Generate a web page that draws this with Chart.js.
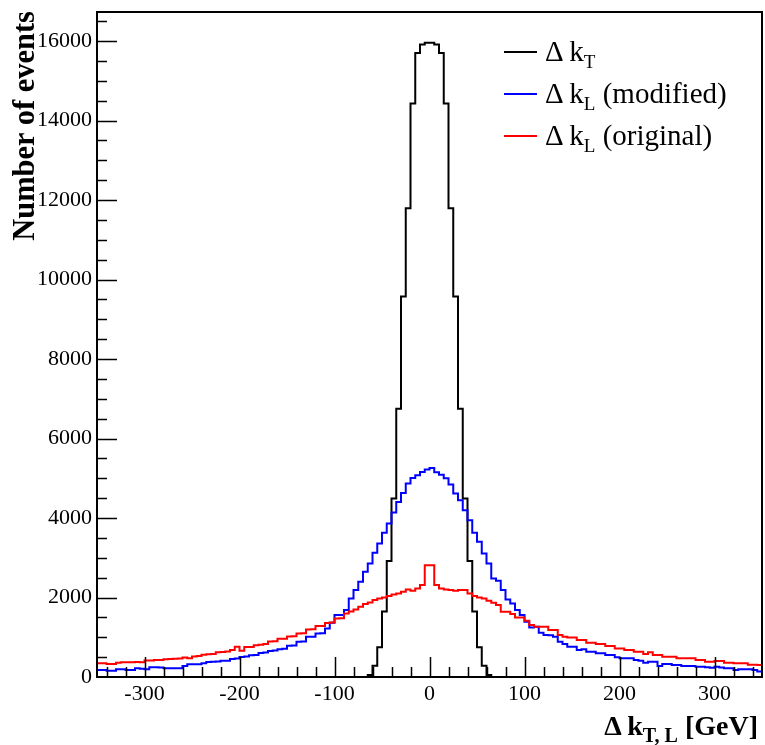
<!DOCTYPE html>
<html>
<head>
<meta charset="utf-8">
<script src="https://cdn.jsdelivr.net/npm/chart.js@4.4.0/dist/chart.umd.min.js"></script>
<style>
    html, body { margin: 0; padding: 0; background: #fff; }
    #wrap { position: relative; width: 765px; height: 745px; }
    #plot { position: absolute; left: 0; top: 0; }
    #labels { position: absolute; left: 0; top: 0; pointer-events: none; }
    #labels text { font-family: 'Liberation Serif', 'Times New Roman', serif; fill: #000; white-space: pre; }
</style>
</head>
<body>
<div id="wrap">
    <canvas id="plot" width="765" height="745"></canvas>
    <svg id="labels" width="765" height="745">
        <text transform="translate(34,11) rotate(-90)" text-anchor="end" font-size="30.5" font-weight="bold">Number of events</text>
        <text x="758" y="735" text-anchor="end" font-size="28" font-weight="bold">Δ k<tspan font-size="20" dy="7">T, L</tspan><tspan font-size="28" dy="-7"> [GeV]</tspan></text>

        <line x1="504" y1="52" x2="537" y2="52" stroke="#000" stroke-width="2"/>
        <text x="545" y="61" font-size="29">Δ k<tspan font-size="19" dy="7">T</tspan></text>
        <line x1="504" y1="94" x2="537" y2="94" stroke="#0000ff" stroke-width="2"/>
        <text x="545" y="103" font-size="29">Δ k<tspan font-size="19" dy="7">L</tspan><tspan font-size="29" dy="-7"> (modified)</tspan></text>
        <line x1="504" y1="136" x2="537" y2="136" stroke="#ff0000" stroke-width="2"/>
        <text x="545" y="145" font-size="29">Δ k<tspan font-size="19" dy="7">L</tspan><tspan font-size="29" dy="-7"> (original)</tspan></text>
    </svg>
</div>
<script>
// histogram binning: 140 bins of 5 GeV from -350 to 350
const binStart = -350;
const binWidth = 5;

// Δk_T
const kT = [
    0, 0, 0, 0, 0, 0, 0, 0, 0, 0,
    0, 0, 0, 0, 0, 0, 0, 0, 0, 0,
    0, 0, 0, 0, 0, 0, 0, 0, 0, 0,
    0, 0, 0, 0, 0, 0, 0, 0, 0, 0,
    0, 0, 0, 0, 0, 0, 0, 0, 0, 0,
    0, 0, 0, 0, 0, 0, 0, 50, 280, 750,
    1650, 2920, 4490, 6750, 9570, 11790, 14430, 15700, 15910, 15955,
    15955, 15910, 15700, 14430, 11790, 9570, 6750, 4490, 2920, 1650,
    750, 280, 50, 0, 0, 0, 0, 0, 0, 0,
    0, 0, 0, 0, 0, 0, 0, 0, 0, 0,
    0, 0, 0, 0, 0, 0, 0, 0, 0, 0,
    0, 0, 0, 0, 0, 0, 0, 0, 0, 0,
    0, 0, 0, 0, 0, 0, 0, 0, 0, 0,
    0, 0, 0, 0, 0, 0, 0, 0, 0, 0
];

// Δk_L (modified)
const kLmod = [
    176, 176, 159, 159, 193, 193, 176, 176, 218, 210,
    193, 243, 243, 240, 218, 220, 222, 218, 276, 318,
    318, 320, 343, 380, 385, 390, 410, 410, 455, 465,
    505, 515, 550, 555, 605, 615, 655, 665, 700, 710,
    787, 790, 885, 890, 1010, 1015, 1095, 1100, 1223, 1365,
    1558, 1560, 1683, 1976, 2186, 2395, 2646, 2856, 3123, 3358,
    3626, 3861, 4137, 4405, 4631, 4866, 5008, 5075, 5158, 5218,
    5259, 5150, 5090, 5000, 4840, 4615, 4447, 4196, 3945, 3626,
    3400, 3107, 2856, 2480, 2420, 2186, 1952, 1851, 1683, 1558,
    1390, 1248, 1265, 1114, 1055, 1050, 1013, 887, 829, 762,
    762, 678, 695, 636, 636, 595, 595, 553, 553, 494,
    469, 469, 469, 430, 410, 360, 385, 385, 276, 327,
    327, 302, 302, 276, 276, 276, 260, 260, 245, 235,
    260, 240, 218, 218, 176, 193, 193, 193, 176, 140
];

// Δk_L (original)
const kLorig = [
    343, 343, 326, 326, 360, 368, 372, 368, 376, 368,
    418, 418, 425, 430, 445, 452, 460, 468, 490, 470,
    515, 530, 560, 570, 580, 620, 630, 640, 678, 762,
    662, 754, 754, 800, 812, 829, 890, 900, 960, 965,
    1020, 1025, 1095, 1100, 1195, 1200, 1280, 1285, 1360, 1370,
    1470, 1480, 1600, 1650, 1700, 1767, 1834, 1876, 1935, 1977,
    2002, 2035, 2077, 2102, 2144, 2203, 2169, 2228, 2312, 2814,
    2814, 2312, 2228, 2203, 2186, 2169, 2186, 2186, 2102, 2035,
    2002, 1977, 1918, 1868, 1809, 1641, 1641, 1583, 1500, 1500,
    1415, 1307, 1265, 1265, 1265, 1181, 1181, 1055, 1013, 996,
    996, 930, 930, 862, 862, 829, 829, 779, 779, 720,
    720, 678, 678, 636, 636, 578, 620, 553, 553, 511,
    511, 511, 469, 469, 469, 469, 427, 427, 385, 385,
    402, 402, 360, 360, 343, 343, 343, 310, 310, 300
];

const xTicks = [-300, -200, -100, 0, 100, 200, 300];
const yTicks = [0, 2000, 4000, 6000, 8000, 10000, 12000, 14000, 16000];

// one point per bin low edge plus the closing edge, drawn as steps
function toSteps(values) {
    const pts = values.map((v, i) => ({ x: binStart + i * binWidth, y: v }));
    pts.push({ x: binStart + values.length * binWidth, y: values[values.length - 1] });
    return pts;
}

const tickFont = { family: "'Liberation Serif', 'Times New Roman', serif", size: 22 };

// ROOT style frame with ticks pointing inwards
const frameTicks = {
    id: 'frameTicks',
    afterDraw(chart) {
        const { ctx, chartArea: a, scales } = chart;
        const xs = scales.x, ys = scales.y;
        ctx.save();
        ctx.strokeStyle = '#000';
        ctx.lineWidth = 1.5;
        ctx.beginPath();
        for (let v = -340; v <= 340; v += 20) {
            const px = Math.round(xs.getPixelForValue(v)) + 0.5;
            const len = v % 100 === 0 ? 20 : 10;
            ctx.moveTo(px, a.bottom);
            ctx.lineTo(px, a.bottom - len);
        }
        for (let v = 500; v <= 16500; v += 500) {
            const py = Math.round(ys.getPixelForValue(v)) + 0.5;
            const len = v % 2000 === 0 ? 20 : 10;
            ctx.moveTo(a.left, py);
            ctx.lineTo(a.left + len, py);
        }
        ctx.stroke();
        ctx.lineWidth = 2;
        ctx.strokeRect(a.left, a.top, a.right - a.left, a.bottom - a.top);
        ctx.restore();
    }
};

new Chart(document.getElementById('plot'), {
    type: 'line',
    data: {
        datasets: [
            { label: 'Δ k_T', data: toSteps(kT), borderColor: '#000000', order: 3 },
            { label: 'Δ k_L (modified)', data: toSteps(kLmod), borderColor: '#0000ff', order: 2 },
            { label: 'Δ k_L (original)', data: toSteps(kLorig), borderColor: '#ff0000', order: 1 }
        ]
    },
    options: {
        responsive: false,
        animation: false,
        devicePixelRatio: 1,
        layout: { padding: { left: 0, top: 12, right: 3, bottom: 0 } },
        elements: {
            line: { borderWidth: 2, stepped: true, fill: false, tension: 0 },
            point: { radius: 0 }
        },
        plugins: { legend: { display: false }, tooltip: { enabled: false } },
        scales: {
            x: {
                type: 'linear',
                min: -350,
                max: 350,
                afterFit(s) { s.height = 68; s.paddingLeft = 0; s.paddingRight = 0; },
                afterBuildTicks(s) { s.ticks = xTicks.map(v => ({ value: v })); },
                grid: { display: false, drawTicks: false },
                border: { display: false },
                ticks: {
                    font: tickFont, color: '#000', padding: 4,
                    maxRotation: 0, autoSkip: false,
                    callback: v => String(v)
                }
            },
            y: {
                type: 'linear',
                min: 0,
                max: 16730,
                afterFit(s) { s.width = 97; s.paddingTop = 0; s.paddingBottom = 0; },
                afterBuildTicks(s) { s.ticks = yTicks.map(v => ({ value: v })); },
                grid: { display: false, drawTicks: false },
                border: { display: false },
                ticks: {
                    font: tickFont, color: '#000', padding: 5,
                    autoSkip: false,
                    callback: v => String(v)
                }
            }
        }
    },
    plugins: [frameTicks]
});
</script>
</body>
</html>
